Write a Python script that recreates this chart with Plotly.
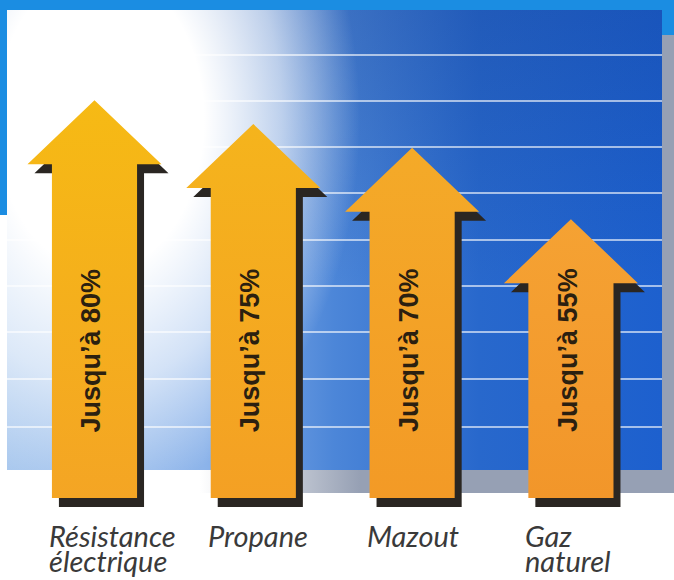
import base64
import plotly.graph_objects as go

# ---------------- data ----------------
CATEGORIES = ["Résistance électrique", "Propane", "Mazout", "Gaz naturel"]
VALUES = [80, 75, 70, 55]
VALUE_TEXT = ["Jusqu’à 80%", "Jusqu’à 75%", "Jusqu’à 70%", "Jusqu’à 55%"]

# ---------------- style ----------------
W, H = 674, 580
TOP_COLORS = ["#F6BA14", "#F5B41C", "#F4AA28", "#F5A233"]
BOT_COLORS = ["#F4A524", "#F4A024", "#F39A26", "#F2962A"]
SHADOW_COLOR = "#2A2622"
SHAFT_HALF = 0.268      # x units
HEAD_HALF = 0.422       # x units
HEAD_H = 13.45          # y units
BASE = -3.57            # y units (arrow foot)
SH_DX, SH_DY = 0.044, -1.89
X_RANGE = [-0.595, 3.649]
Y_RANGE = [-20.8, 101.05]

# ---------------- background (decor) ----------------
line_ys = [55, 101, 147, 193, 240, 286, 332, 379, 427]
lines_svg = "".join(
    f'<line x1="7" x2="662" y1="{y}" y2="{y}" stroke="#ffffff" stroke-opacity="0.8" stroke-width="1.5"/>'
    for y in line_ys)
svg = f'''<svg xmlns="http://www.w3.org/2000/svg" width="{W}" height="{H}" viewBox="0 0 {W} {H}">
<defs>
<linearGradient id="base" gradientUnits="userSpaceOnUse" x1="7" y1="0" x2="662" y2="0">
<stop offset="0" stop-color="#A9C8EE"/>
<stop offset="0.3" stop-color="#8DB4EA"/>
<stop offset="0.5" stop-color="#4C86D8"/>
<stop offset="0.72" stop-color="#2868CC"/>
<stop offset="1" stop-color="#1D60CE"/>
</linearGradient>
<linearGradient id="dark" x1="0" y1="0" x2="0" y2="1">
<stop offset="0" stop-color="#0B2C78" stop-opacity="0.22"/>
<stop offset="0.6" stop-color="#0B2C78" stop-opacity="0"/>
</linearGradient>
<radialGradient id="white" gradientUnits="userSpaceOnUse" cx="100" cy="120" r="260" gradientTransform="translate(100 120) scale(1 1.45) translate(-100 -120)">
<stop offset="0" stop-color="#ffffff" stop-opacity="1"/>
<stop offset="0.4" stop-color="#ffffff" stop-opacity="1"/>
<stop offset="0.7" stop-color="#ffffff" stop-opacity="0.6"/>
<stop offset="1" stop-color="#ffffff" stop-opacity="0"/>
</radialGradient>
<linearGradient id="gray" gradientUnits="userSpaceOnUse" x1="200" y1="0" x2="360" y2="0">
<stop offset="0" stop-color="#96A0B4" stop-opacity="0"/>
<stop offset="1" stop-color="#96A0B4" stop-opacity="1"/>
</linearGradient>
</defs>
<rect x="0" y="0" width="{W}" height="215" fill="#1B8DE2"/>
<rect x="0" y="35" width="{W}" height="458" fill="url(#gray)"/>
<rect x="7" y="10" width="655" height="460" fill="url(#base)"/>
<rect x="7" y="10" width="655" height="460" fill="url(#dark)"/>
<rect x="7" y="10" width="655" height="460" fill="url(#white)"/>
{lines_svg}
</svg>'''
svg_uri = "data:image/svg+xml;base64," + base64.b64encode(svg.encode("utf-8")).decode("ascii")


def arrow_path(cx, v, dx=0.0, dy=0.0):
    xs = [cx - SHAFT_HALF, cx - SHAFT_HALF, cx - HEAD_HALF, cx, cx + HEAD_HALF,
          cx + SHAFT_HALF, cx + SHAFT_HALF, cx - SHAFT_HALF]
    ys = [BASE, v - HEAD_H, v - HEAD_H, v, v - HEAD_H, v - HEAD_H, BASE, BASE]
    return [x + dx for x in xs], [y + dy for y in ys]


fig = go.Figure()
for i, v in enumerate(VALUES):
    sx, sy = arrow_path(i, v, SH_DX, SH_DY)
    fig.add_trace(go.Scatter(x=sx, y=sy, mode="lines", fill="toself",
                             fillcolor=SHADOW_COLOR, line=dict(width=0),
                             hoverinfo="skip", showlegend=False))
    ax, ay = arrow_path(i, v)
    fig.add_trace(go.Scatter(x=ax, y=ay, mode="lines", fill="toself",
                             fillcolor=TOP_COLORS[i], line=dict(width=0),
                             fillgradient=dict(type="vertical",
                                               colorscale=[[0, BOT_COLORS[i]], [1, TOP_COLORS[i]]]),
                             hoverinfo="skip", showlegend=False, name=CATEGORIES[i]))

annotations = []
for i, t in enumerate(VALUE_TEXT):
    annotations.append(dict(x=i, xref="x", y=1 - 350 / H, yref="paper", text=t,
                            textangle=-90, showarrow=False, xshift=-3,
                            font=dict(family="Liberation Sans", size=27, color="#2B2010",
                                      weight="bold")))
for i, c in enumerate(CATEGORIES):
    parts = c.split(" ")
    for k, p in enumerate(parts):
        annotations.append(dict(x=i - SHAFT_HALF, xref="x", y=1 - (535 + 25 * k) / H,
                                yref="paper", text=p, showarrow=False, xanchor="left",
                                yanchor="middle", xshift=-5,
                                font=dict(family="Lato", size=29, color="#3A3A3A",
                                          style="italic")))

fig.update_layout(
    width=W, height=H, autosize=False,
    margin=dict(l=0, r=0, t=0, b=0, pad=0),
    paper_bgcolor="#ffffff", plot_bgcolor="rgba(0,0,0,0)",
    xaxis=dict(range=X_RANGE, visible=False, fixedrange=True),
    yaxis=dict(range=Y_RANGE, visible=False, fixedrange=True),
    images=[dict(source=svg_uri, xref="paper", yref="paper", x=0, y=1,
                 sizex=1, sizey=1, xanchor="left", yanchor="top",
                 sizing="stretch", layer="below")],
    annotations=annotations,
    showlegend=False,
)

fig.write_html("out.html", config=dict(displayModeBar=False, staticPlot=True))
